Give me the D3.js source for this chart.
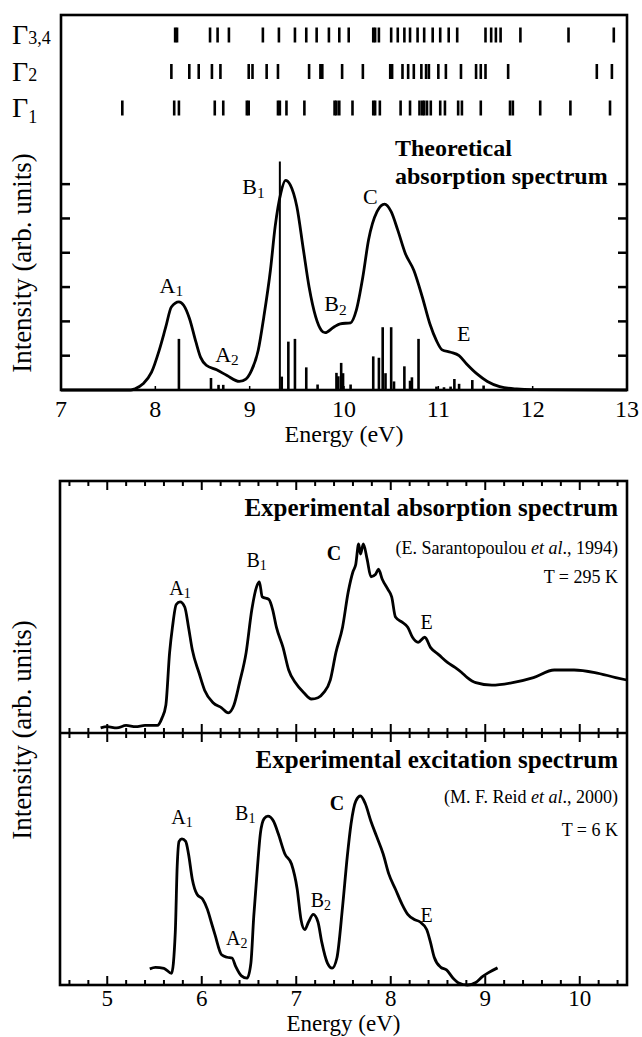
<!DOCTYPE html>
<html><head><meta charset="utf-8">
<script src="https://cdn.jsdelivr.net/npm/d3@7"></script>
<style>
body{margin:0;background:#fff}
svg{display:block}
svg text{font-family:'Liberation Serif','Times New Roman',Times,serif;fill:#000}
</style>
</head><body>
<svg id="c" width="642" height="1037" font-family="Liberation Serif, Times New Roman, serif"></svg>
<script>
// ---------- DATA ----------
// Theoretical absorption spectrum (energy in eV, intensity in tick units)
const theoE = [7.0,7.74,7.78,7.87,7.96,8.04,8.11,8.17,8.25,8.30,8.36,8.43,8.48,8.54,8.65,8.76,8.89,8.96,9.02,9.09,9.15,9.22,9.27,9.33,9.38,9.43,9.50,9.57,9.63,9.70,9.76,9.80,9.89,9.96,10.07,10.13,10.20,10.26,10.35,10.43,10.50,10.57,10.65,10.74,10.83,10.91,10.98,11.04,11.13,11.22,11.30,11.41,11.52,11.65,11.83,12.0,13.0];
const theoI = [0,0,0.03,0.18,0.52,1.15,1.83,2.42,2.57,2.47,2.10,1.40,0.95,0.72,0.59,0.42,0.25,0.32,0.57,1.15,2.13,3.49,4.76,5.74,6.11,5.98,5.35,4.08,3.0,2.13,1.74,1.67,1.83,1.93,1.96,2.32,3.30,4.37,5.20,5.42,5.20,4.66,3.98,3.49,2.71,1.93,1.44,1.17,1.10,1.0,0.76,0.47,0.25,0.10,0.03,0.01,0];
// Stick spectrum
const stickE = [8.25,8.59,8.67,8.72,9.32,9.34,9.41,9.48,9.60,9.72,9.92,9.94,9.97,9.99,10.07,10.31,10.37,10.41,10.44,10.50,10.53,10.64,10.70,10.72,10.79,10.98,11.06,11.13,11.17,11.22,11.36,11.48];
const stickI = [1.49,0.35,0.15,0.15,6.66,0.39,1.41,1.49,0.66,0.16,0.50,0.40,0.79,0.49,0.16,0.98,0.94,1.83,0.49,1.83,0.25,0.69,0.27,0.37,1.49,0.10,0.08,0.10,0.32,0.18,0.29,0.13];
// Irreducible representation level positions (eV)
const gamma34 = [8.21,8.23,8.58,8.66,8.78,9.14,9.31,9.48,9.60,9.71,9.84,9.95,10.05,10.31,10.33,10.37,10.50,10.57,10.64,10.70,10.78,10.85,10.94,11.02,11.11,11.20,11.50,11.56,11.61,11.66,11.87,12.38,12.86];
const gamma2 = [8.17,8.36,8.46,8.60,8.69,8.99,9.03,9.18,9.30,9.63,9.75,9.77,9.98,10.20,10.49,10.51,10.62,10.68,10.74,10.82,10.87,10.90,11.00,11.08,11.24,11.40,11.45,11.50,11.74,12.68,12.84];
const gamma1 = [7.65,8.20,8.25,8.63,8.72,8.97,8.99,9.30,9.32,9.39,9.58,9.90,9.92,9.95,10.09,10.31,10.33,10.38,10.60,10.70,10.80,10.83,10.85,10.88,10.92,11.02,11.07,11.21,11.25,11.45,11.76,11.79,12.08,12.40,12.82];
const gammaNames = ["3,4","2","1"];
// Experimental absorption spectrum (E. Sarantopoulou et al., 1994)
const absE = [4.93,5.0,5.1,5.2,5.3,5.4,5.53,5.58,5.62,5.66,5.69,5.73,5.77,5.82,5.86,5.90,5.97,6.03,6.12,6.21,6.28,6.34,6.40,6.47,6.53,6.58,6.61,6.64,6.71,6.75,6.79,6.86,6.92,6.99,7.08,7.16,7.23,7.29,7.36,7.42,7.49,7.55,7.60,7.63,7.66,7.68,7.71,7.75,7.79,7.84,7.87,7.91,7.97,8.01,8.05,8.12,8.18,8.23,8.29,8.36,8.42,8.51,8.60,8.68,8.75,8.81,8.90,9.07,9.29,9.51,9.73,9.94,10.16,10.38,10.5];
const absI = [0.02,0.025,0.02,0.03,0.025,0.03,0.03,0.06,0.11,0.32,0.42,0.51,0.52,0.50,0.42,0.33,0.24,0.17,0.12,0.10,0.08,0.11,0.20,0.32,0.49,0.58,0.60,0.54,0.53,0.49,0.42,0.34,0.25,0.20,0.16,0.135,0.14,0.16,0.21,0.32,0.42,0.56,0.64,0.67,0.75,0.71,0.75,0.69,0.62,0.63,0.65,0.61,0.57,0.54,0.46,0.44,0.42,0.38,0.36,0.38,0.34,0.31,0.28,0.26,0.24,0.22,0.20,0.19,0.20,0.22,0.25,0.25,0.24,0.22,0.21];
// Experimental excitation spectrum (M. F. Reid et al., 2000)
const excE = [5.45,5.51,5.60,5.68,5.72,5.74,5.76,5.79,5.83,5.86,5.90,5.95,6.01,6.06,6.10,6.14,6.21,6.27,6.32,6.36,6.42,6.48,6.52,6.55,6.59,6.62,6.66,6.70,6.76,6.81,6.88,6.95,7.01,7.05,7.09,7.13,7.18,7.23,7.27,7.33,7.38,7.43,7.49,7.54,7.58,7.63,7.68,7.73,7.79,7.85,7.92,7.98,8.05,8.12,8.18,8.25,8.31,8.38,8.42,8.46,8.53,8.59,8.66,8.72,8.81,8.90,8.97,9.03,9.13];
const excI = [0.064,0.07,0.066,0.046,0.21,0.47,0.57,0.58,0.57,0.52,0.42,0.36,0.34,0.30,0.25,0.20,0.12,0.11,0.107,0.073,0.036,0.027,0.087,0.27,0.47,0.60,0.66,0.67,0.65,0.60,0.52,0.48,0.38,0.26,0.22,0.25,0.28,0.25,0.17,0.087,0.067,0.107,0.31,0.51,0.64,0.73,0.75,0.72,0.65,0.59,0.52,0.44,0.38,0.32,0.28,0.26,0.25,0.22,0.17,0.11,0.07,0.06,0.027,0.008,0.0,0.01,0.033,0.048,0.068];
// Tick labels
const topTicks = [7,8,9,10,11,12,13];
const topYTicks = [1,2,3,4,5,6];
const lowTicks = [5,6,7,8,9,10];
// Peak labels: [main, subscript, energy, intensity, bold]
const theoLabels = [["A","1",8.17,3.05,false],["A","2",8.76,1.05,false],["B","1",9.04,5.93,false],["B","2",9.91,2.52,false],["C","",10.28,5.64,false],["E","",11.27,1.64,false]];
const absLabels = [["A","1",5.77,0.575,false],["B","1",6.58,0.687,false],["C","",7.40,0.714,true],["E","",8.38,0.44,false]];
const excLabels = [["A","1",5.79,0.667,false],["A","2",6.37,0.187,false],["B","1",6.46,0.683,false],["B","2",7.26,0.337,false],["C","",7.43,0.722,true],["E","",8.38,0.278,false]];

// ---------- DRAW ----------
const FONT = "Liberation Serif, Times New Roman, serif";
const svg = d3.select("#c");
const xT = d3.scaleLinear().domain([7,13]).range([61,627]);
const yT = d3.scaleLinear().domain([0,10.93]).range([390,15]);
const yG = d3.scalePoint().domain(gammaNames).range([35,108]);
const xL = d3.scaleLinear().domain([4.5,10.5]).range([60,627]);
const yA = d3.scaleLinear().domain([0,1]).range([733,481]);
const yX = d3.scaleLinear().domain([0,1]).range([985,733]);

const txt = (x,y,size) => svg.append("text").attr("x",x).attr("y",y).attr("font-size",size).attr("font-family",FONT);
const curveLine = (xs, ys, E, I) => d3.line().x((d,i)=>xs(E[i])).y((d,i)=>ys(I[i])).curve(d3.curveMonotoneX)(E);

// Top panel frame
svg.append("rect").attr("x",xT(7)).attr("y",yT(10.93)).attr("width",xT(13)-xT(7)).attr("height",yT(0)-yT(10.93))
  .attr("fill","none").attr("stroke","#000").attr("stroke-width",2.6);
topYTicks.forEach(t=>{
  svg.append("line").attr("x1",xT(7)).attr("x2",xT(7)+9).attr("y1",yT(t)).attr("y2",yT(t)).attr("stroke","#000").attr("stroke-width",2.5);
  svg.append("line").attr("x1",xT(13)).attr("x2",xT(13)-9).attr("y1",yT(t)).attr("y2",yT(t)).attr("stroke","#000").attr("stroke-width",2.5);
});
topTicks.forEach(t=>{
  svg.append("line").attr("x1",xT(t)).attr("x2",xT(t)).attr("y1",yT(0)).attr("y2",yT(0)-4).attr("stroke","#000").attr("stroke-width",1.5);
  txt(xT(t),417,24).attr("text-anchor","middle").text(t);
});
txt((xT(7)+xT(13))/2,442,24).attr("text-anchor","middle").text("Energy (eV)");

// Gamma rows
const gSets = [gamma34,gamma2,gamma1];
gammaNames.forEach((n,k)=>{
  svg.selectAll(null).data(gSets[k]).enter().append("line")
    .attr("x1",d=>xT(d)).attr("x2",d=>xT(d))
    .attr("y1",yG(n)-7.5).attr("y2",yG(n)+7.5)
    .attr("stroke","#000").attr("stroke-width",2.6);
  const t = txt(12,yG(n)+9,28);
  t.append("tspan").text("Γ");
  t.append("tspan").attr("font-size",18).attr("dy", n==="1"?6:0).text(n);
});

// sticks
svg.selectAll(null).data(stickE).enter().append("line")
  .attr("x1",d=>xT(d)).attr("x2",d=>xT(d))
  .attr("y1",yT(0)).attr("y2",(d,i)=>yT(stickI[i]))
  .attr("stroke","#000").attr("stroke-width",(d,i)=>stickI[i]>6?2:2.6);
svg.append("path").attr("d",curveLine(xT,yT,theoE,theoI)).attr("fill","none").attr("stroke","#000").attr("stroke-width",2.8);

function label(xs, ys, L, size){
  const t = txt(xs(L[2]), ys(L[3])+size*0.35, size).attr("text-anchor","middle").attr("font-weight",L[4]?"bold":"normal");
  t.append("tspan").text(L[0]);
  if(L[1]) t.append("tspan").attr("font-size",size*0.7).attr("dy",size*0.15).text(L[1]);
}
theoLabels.forEach(L=>label(xT,yT,L,22));
txt(395,156,24).attr("font-weight","bold").text("Theoretical");
txt(395,184,24).attr("font-weight","bold").text("absorption spectrum");

// Y axis titles
svg.append("text").attr("transform","translate(31,263) rotate(-90)").attr("text-anchor","middle").attr("font-size",27).attr("font-family",FONT).text("Intensity (arb. units)");
svg.append("text").attr("transform","translate(31,730) rotate(-90)").attr("text-anchor","middle").attr("font-size",27).attr("font-family",FONT).text("Intensity (arb. units)");

// Lower panels frame
svg.append("rect").attr("x",xL(4.5)).attr("y",yA(1)).attr("width",xL(10.5)-xL(4.5)).attr("height",yX(0)-yA(1))
  .attr("fill","none").attr("stroke","#000").attr("stroke-width",2.6);
svg.append("line").attr("x1",xL(4.5)).attr("x2",xL(10.5)).attr("y1",yA(0)).attr("y2",yA(0)).attr("stroke","#000").attr("stroke-width",2.6);
const minor = d3.range(4.6,10.45,0.2).map(v=>Math.round(v*10)/10);
minor.forEach(v=>{
  const major = Math.abs(v-Math.round(v))<1e-6;
  const L = major?9:5;
  svg.append("line").attr("x1",xL(v)).attr("x2",xL(v)).attr("y1",yA(1)).attr("y2",yA(1)+L).attr("stroke","#000").attr("stroke-width",2);
  svg.append("line").attr("x1",xL(v)).attr("x2",xL(v)).attr("y1",yA(0)-L).attr("y2",yA(0)+L).attr("stroke","#000").attr("stroke-width",2);
  svg.append("line").attr("x1",xL(v)).attr("x2",xL(v)).attr("y1",yX(0)).attr("y2",yX(0)-L).attr("stroke","#000").attr("stroke-width",2);
});
lowTicks.forEach(t=>{ txt(xL(t),1006,23).attr("text-anchor","middle").text(t); });
txt((xL(4.5)+xL(10.5))/2,1031,23).attr("text-anchor","middle").text("Energy (eV)");

svg.append("path").attr("d",curveLine(xL,yA,absE,absI)).attr("fill","none").attr("stroke","#000").attr("stroke-width",2.8);
svg.append("path").attr("d",curveLine(xL,yX,excE,excI)).attr("fill","none").attr("stroke","#000").attr("stroke-width",2.8);

absLabels.forEach(L=>label(xL,yA,L,20));
excLabels.forEach(L=>label(xL,yX,L,20));

const rx = 618;
txt(rx,516,25).attr("text-anchor","end").attr("font-weight","bold").text("Experimental absorption spectrum");
const c1 = txt(rx,554,18).attr("text-anchor","end");
c1.append("tspan").text("(E. Sarantopoulou ");
c1.append("tspan").attr("font-style","italic").text("et al");
c1.append("tspan").text("., 1994)");
txt(rx,583,18).attr("text-anchor","end").text("T = 295 K");
txt(rx,768,25).attr("text-anchor","end").attr("font-weight","bold").text("Experimental excitation spectrum");
const c2 = txt(rx,803,18).attr("text-anchor","end");
c2.append("tspan").text("(M. F. Reid ");
c2.append("tspan").attr("font-style","italic").text("et al");
c2.append("tspan").text("., 2000)");
txt(rx,836,18).attr("text-anchor","end").text("T = 6 K");
</script>
</body></html>
